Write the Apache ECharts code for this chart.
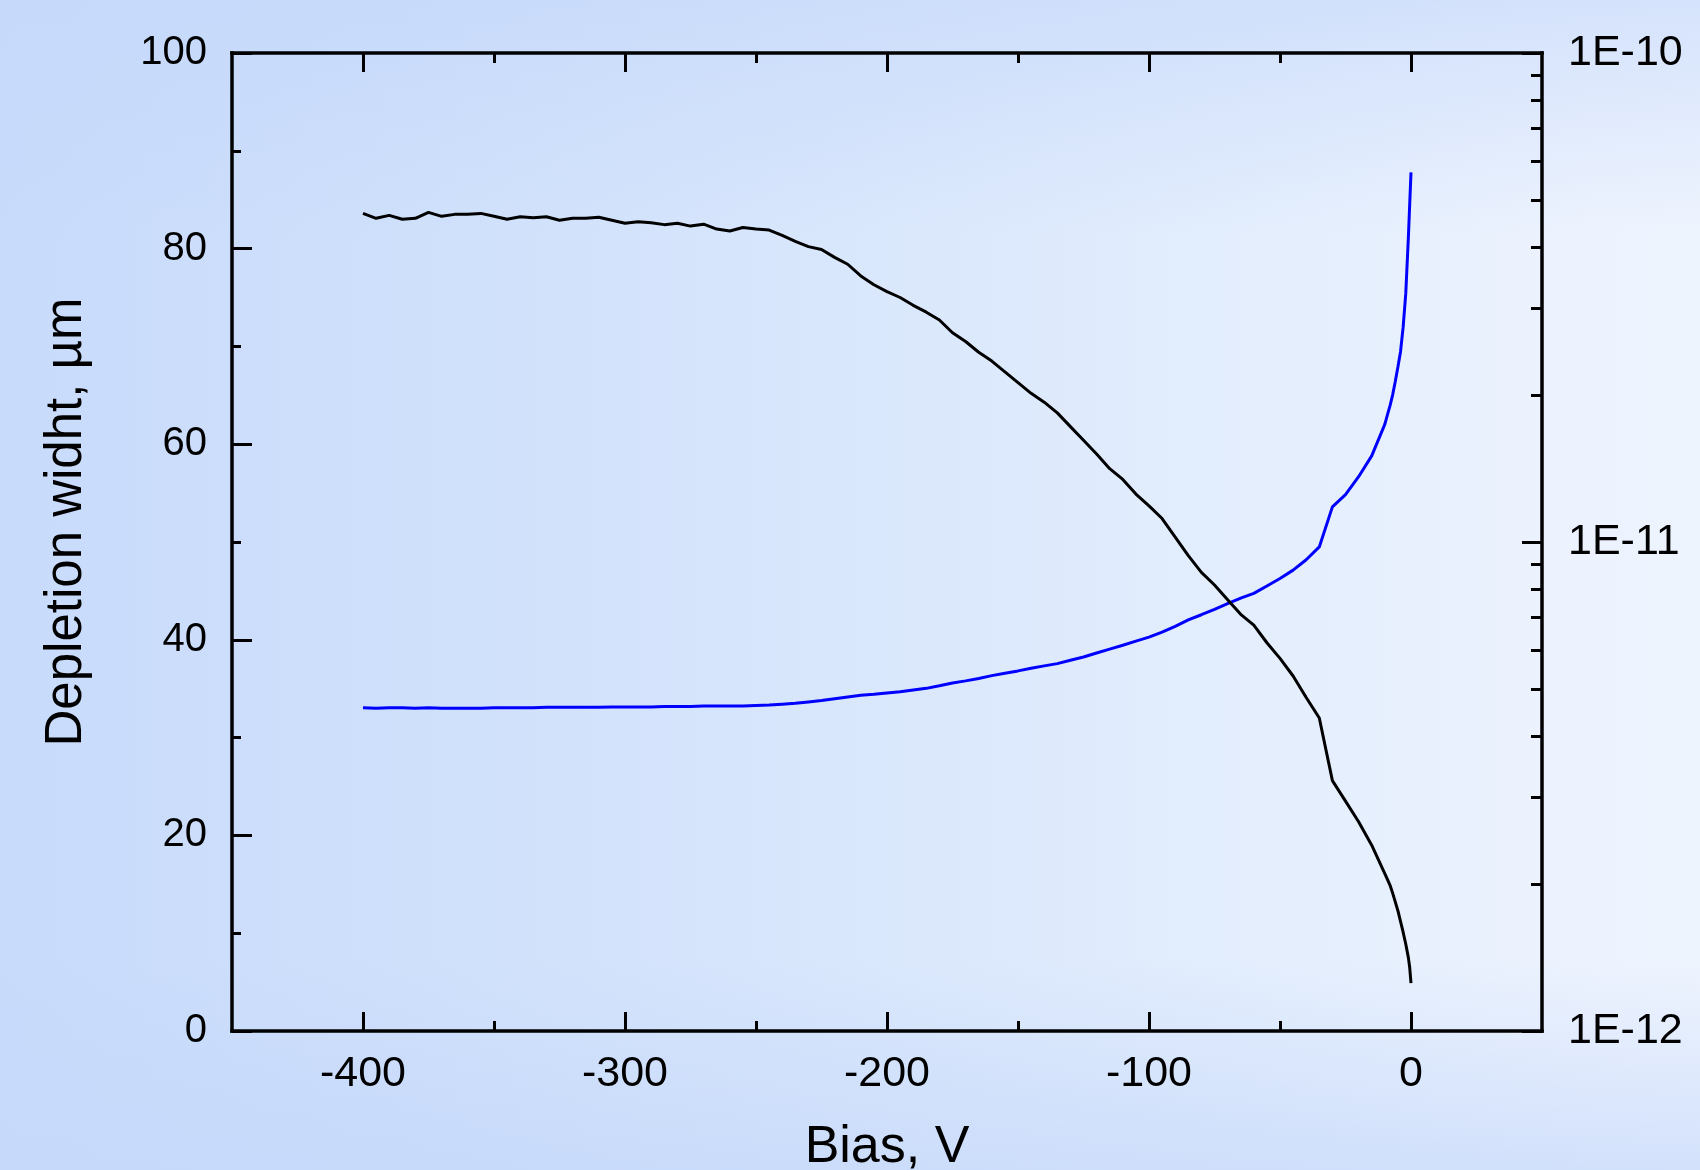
<!DOCTYPE html>
<html>
<head>
<meta charset="utf-8">
<script src="https://cdn.jsdelivr.net/npm/echarts@6/dist/echarts.min.js"></script>
<style>
  html, body { margin: 0; padding: 0; }
  #chart { width: 1700px; height: 1170px; }
</style>
</head>
<body>
<div id="chart"></div>
<script>
// ---- Data ----
const bias = [
  -400, -395, -390, -385, -380, -375, -370, -365, -360, -355,
  -350, -345, -340, -335, -330, -325, -320, -315, -310, -305,
  -300, -295, -290, -285, -280, -275, -270, -265, -260, -255,
  -250, -245, -240, -235, -230, -225, -220, -215, -210, -205,
  -200, -195, -190, -185, -180, -175, -170, -165, -160, -155,
  -150, -145, -140, -135, -130, -125, -120, -115, -110, -105,
  -100, -95, -90, -85, -80, -75, -70, -65, -60, -55,
  -50, -45, -40, -35, -30, -25, -20, -15, -10,
  -9, -8, -7, -6, -5, -4, -3, -2, -1, -0.5, 0
];
const depletionWidth = [
  83.6, 83.1, 83.4, 83.0, 83.1, 83.7, 83.3, 83.5, 83.5, 83.6,
  83.3, 83.0, 83.25, 83.15, 83.25, 82.9, 83.1, 83.1, 83.2, 82.9,
  82.6, 82.75, 82.65, 82.45, 82.6, 82.3, 82.5, 82.0, 81.8, 82.15,
  82.0, 81.9, 81.35, 80.75, 80.2, 79.9, 79.1, 78.4, 77.2, 76.3,
  75.6, 75.0, 74.2, 73.5, 72.7, 71.4, 70.5, 69.4, 68.5, 67.4,
  66.3, 65.2, 64.3, 63.2, 61.8, 60.4, 59.0, 57.5, 56.4, 54.9,
  53.7, 52.4, 50.5, 48.6, 46.9, 45.6, 44.1, 42.6, 41.5, 39.7,
  38.1, 36.3, 34.1, 32.0, 25.6, 23.5, 21.4, 19.0, 16.1,
  15.5, 14.9, 14.1, 13.2, 12.3, 11.2, 10.1, 8.9, 7.5, 6.5, 4.9
];
const rightValues = [
  4.58e-12, 4.57e-12, 4.58e-12, 4.58e-12, 4.57e-12, 4.58e-12, 4.57e-12, 4.57e-12, 4.57e-12, 4.57e-12,
  4.58e-12, 4.58e-12, 4.58e-12, 4.58e-12, 4.59e-12, 4.59e-12, 4.59e-12, 4.59e-12, 4.59e-12, 4.60e-12,
  4.60e-12, 4.60e-12, 4.60e-12, 4.61e-12, 4.61e-12, 4.61e-12, 4.62e-12, 4.62e-12, 4.62e-12, 4.62e-12,
  4.63e-12, 4.64e-12, 4.66e-12, 4.68e-12, 4.71e-12, 4.74e-12, 4.78e-12, 4.82e-12, 4.86e-12, 4.88e-12,
  4.91e-12, 4.94e-12, 4.98e-12, 5.02e-12, 5.08e-12, 5.15e-12, 5.20e-12, 5.26e-12, 5.33e-12, 5.39e-12,
  5.45e-12, 5.52e-12, 5.58e-12, 5.64e-12, 5.73e-12, 5.82e-12, 5.93e-12, 6.04e-12, 6.15e-12, 6.27e-12,
  6.39e-12, 6.54e-12, 6.72e-12, 6.93e-12, 7.10e-12, 7.28e-12, 7.48e-12, 7.68e-12, 7.85e-12, 8.13e-12,
  8.42e-12, 8.76e-12, 9.20e-12, 9.77e-12, 1.18e-11, 1.25e-11, 1.36e-11, 1.50e-11, 1.74e-11,
  1.82e-11, 1.90e-11, 2.00e-11, 2.13e-11, 2.28e-11, 2.45e-11, 2.75e-11, 3.22e-11, 4.2e-11, 4.9e-11, 5.7e-11
];

// ---- Ticks and labels ----
const xMajorTicks = [-400, -300, -200, -100, 0];
const xMinorTicks = [-350, -250, -150, -50];
const rightMinorTicks = [
  2e-12, 3e-12, 4e-12, 5e-12, 6e-12, 7e-12, 8e-12, 9e-12,
  2e-11, 3e-11, 4e-11, 5e-11, 6e-11, 7e-11, 8e-11, 9e-11
];
const xTitle = 'Bias, V';
const yLeftTitle = 'Depletion widht, µm';

// ---- Chart ----
const FONT = "'Liberation Sans', Arial, Helvetica, sans-serif";
const AX = { color: '#000', width: 3.5, cap: 'square' };
const TK = { color: '#000', width: 3 };
const X_MIN = -450, X_MAX = 50;

const chart = echarts.init(document.getElementById('chart'), null, { renderer: 'canvas' });

function xAxisDef(position, ticks, length, showLine, showLabel, extra) {
  return Object.assign({
    type: 'value', position: position, min: X_MIN, max: X_MAX,
    axisLine: { show: showLine, onZero: false, lineStyle: AX },
    axisTick: { show: true, inside: true, length: length, customValues: ticks, lineStyle: TK },
    axisLabel: showLabel
      ? { show: true, customValues: ticks, fontSize: 43, margin: 22, color: '#000', fontFamily: FONT }
      : { show: false },
    splitLine: { show: false }
  }, extra || {});
}

const option = {
  animation: false,
  backgroundColor: {
    type: 'linear', x: 0, y: 0, x2: 1, y2: 0,
    colorStops: [
      { offset: 0, color: '#c8dbfb' },
      { offset: 0.25, color: '#cfe0fb' },
      { offset: 0.5, color: '#d9e7fc' },
      { offset: 0.75, color: '#e4eefd' },
      { offset: 0.94, color: '#edf3fe' },
      { offset: 1, color: '#eef4fe' }
    ]
  },
  graphic: {
    elements: [{
      type: 'rect', silent: true, z: -100,
      shape: { x: 0, y: 0, width: 1700, height: 1170 },
      style: {
        fill: new echarts.graphic.LinearGradient(0, 0, 0, 1, [
          { offset: 0, color: 'rgba(196,215,250,0.6)' },
          { offset: 0.2, color: 'rgba(196,215,250,0)' },
          { offset: 0.82, color: 'rgba(196,215,250,0)' },
          { offset: 1, color: 'rgba(196,215,250,0.65)' }
        ])
      }
    }]
  },
  grid: {
    left: 232, right: 158, top: 53, bottom: 139,
    containLabel: false, outerBoundsMode: 'none'
  },
  xAxis: [
    xAxisDef('bottom', xMajorTicks, 19, true, true, {
      name: xTitle, nameLocation: 'middle', nameGap: 91,
      nameTextStyle: { fontSize: 52, color: '#000', fontFamily: FONT }
    }),
    xAxisDef('bottom', xMinorTicks, 10, false, false),
    xAxisDef('top', xMajorTicks, 19, true, false),
    xAxisDef('top', xMinorTicks, 10, false, false)
  ],
  yAxis: [
    {
      type: 'value', position: 'left', min: 0, max: 100, interval: 20,
      axisLine: { show: true, onZero: false, lineStyle: AX },
      axisTick: { show: true, inside: true, length: 20, lineStyle: TK },
      minorTick: { show: true, splitNumber: 2, length: 9, lineStyle: TK },
      axisLabel: { fontSize: 40, margin: 25, color: '#000', fontFamily: FONT },
      splitLine: { show: false }, minorSplitLine: { show: false },
      name: yLeftTitle, nameLocation: 'middle', nameGap: 140, nameRotate: 90,
      nameTextStyle: { fontSize: 51, color: '#000', fontFamily: FONT, padding: [0, 0, 0, 40] }
    },
    {
      type: 'log', logBase: 10, position: 'right', min: 1e-12, max: 1e-10,
      axisLine: { show: true, onZero: false, lineStyle: AX },
      axisTick: { show: true, inside: true, length: 20, lineStyle: TK },
      axisLabel: {
        fontSize: 43, margin: 26, color: '#000', fontFamily: FONT,
        formatter: function (v) { return v.toExponential(0).toUpperCase(); }
      },
      splitLine: { show: false }
    },
    {
      type: 'log', logBase: 10, position: 'right', min: 1e-12, max: 1e-10,
      axisLine: { show: false, onZero: false },
      axisTick: { show: true, inside: true, length: 11, customValues: rightMinorTicks, lineStyle: TK },
      axisLabel: { show: false },
      splitLine: { show: false }
    }
  ],
  series: [
    {
      type: 'line', xAxisIndex: 0, yAxisIndex: 1,
      data: bias.map((b, i) => [b, rightValues[i]]),
      showSymbol: false, symbol: 'none',
      lineStyle: { color: '#0000ff', width: 3 },
      z: 3
    },
    {
      type: 'line', xAxisIndex: 0, yAxisIndex: 0,
      data: bias.map((b, i) => [b, depletionWidth[i]]),
      showSymbol: false, symbol: 'none',
      lineStyle: { color: '#000000', width: 3 },
      z: 4
    }
  ]
};
chart.setOption(option);
</script>
</body>
</html>
